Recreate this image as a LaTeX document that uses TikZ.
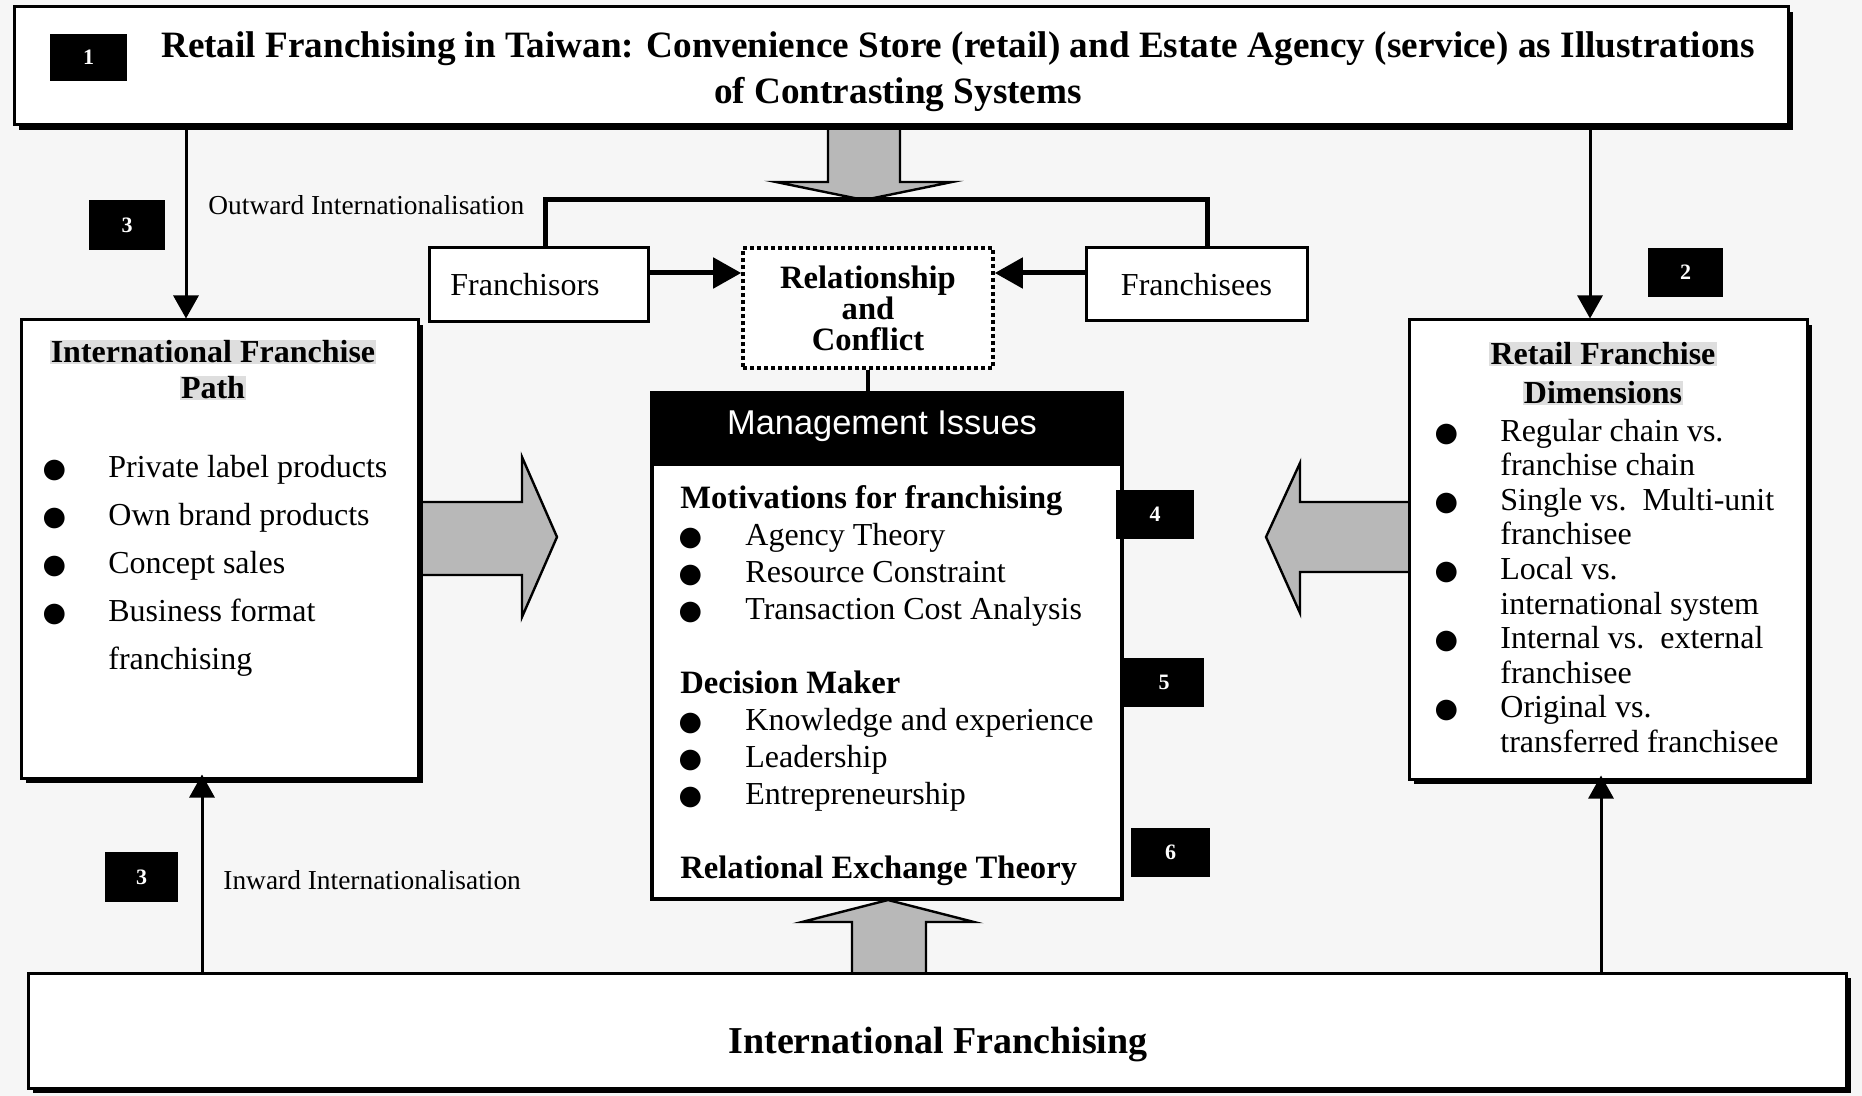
\documentclass[tikz,border=0pt]{standalone}
\usepackage{fontspec}
\setmainfont{Liberation Serif}
\setsansfont{Liberation Sans}
\newfontfamily\dvsans{DejaVu Sans}
\usetikzlibrary{arrows.meta,shadows}
\definecolor{bgpaper}{gray}{0.965}
\definecolor{hlgray}{gray}{0.87}
\definecolor{arrowgray}{gray}{0.72}
% large round list bullet
\newcommand\blt{{\dvsans\fontsize{13.5}{13.5}\selectfont ●}}
% shaded heading lines
\newcommand\hl[1]{{\setlength\fboxsep{0.6pt}\colorbox{hlgray}{#1}}}

\begin{document}
\begin{tikzpicture}[x=0.5pt,y=-0.5pt,
  panel/.style={draw, line width=1.5pt, fill=white, inner sep=0pt,
     drop shadow={shadow xshift=2.5pt, shadow yshift=-2.5pt, fill=black, opacity=1}},
  plainbox/.style={draw, line width=1.5pt, fill=white, inner sep=0pt},
  numbox/.style={fill=black, text=white, inner sep=0pt, font=\bfseries\fontsize{11}{11}\selectfont},
  arr/.style={line width=1.5pt, -{Triangle[length=11.5pt,width=12.5pt]}},
  harr/.style={line width=2.5pt, -{Triangle[length=14pt,width=15pt]}},
  blockarrow/.style={draw, line width=1.2pt, fill=arrowgray, line join=miter},
  listtext/.style={anchor=north west, inner sep=0pt, align=left},
  headtext/.style={inner sep=0pt, align=center},
  sidelabel/.style={anchor=west, inner sep=0pt, font=\fontsize{13.7}{16}\selectfont}
]
\useasboundingbox (0,0) rectangle (1862,1096);
\fill[bgpaper] (0,0) rectangle (1862,1096);

% broad grey arrows
\draw[blockarrow] (828,120) -- (828,182) -- (776,182) -- (864,200) -- (952,182) -- (900,182) -- (900,120) -- cycle;
\draw[blockarrow] (852,978) -- (852,922) -- (802,922) -- (888,900) -- (974,922) -- (926,922) -- (926,978) -- cycle;
\draw[blockarrow] (410,502) -- (522,502) -- (522,457) -- (557,537) -- (522,617) -- (522,575) -- (410,575) -- cycle;
\draw[blockarrow] (1414,502) -- (1300,502) -- (1300,463) -- (1266,537) -- (1300,613) -- (1300,572) -- (1414,572) -- cycle;

% title box
\node[panel, minimum width=887pt, minimum height=59pt] (top) at (901,66) {};
\node[headtext, font=\bfseries\fontsize{18.6}{22}\selectfont] (t1) at (958,49)
  {Retail Franchising in Taiwan: Convenience Store (retail) and Estate Agency (service) as Illustrations};
\node[headtext, font=\bfseries\fontsize{18.6}{22}\selectfont] (t2) at (898,95) {of Contrasting Systems};

% left panel
\node[panel, minimum width=198.5pt, minimum height=229pt] (ifp) at (219.5,549) {};
\node[headtext, font=\bfseries\fontsize{16}{18}\selectfont] (ifpT) at (213,370)
  {\hl{International Franchise}\\\hl{Path}};
\node[listtext, font=\fontsize{16}{24}\selectfont] (ifpL) at (34,454.5)
  {\makebox[20pt]{\blt}\hspace{17pt}Private label products\\
   \makebox[20pt]{\blt}\hspace{17pt}Own brand products\\
   \makebox[20pt]{\blt}\hspace{17pt}Concept sales\\
   \makebox[20pt]{\blt}\hspace{17pt}Business format\\
   \hspace{37pt}franchising};

% right panel
\node[panel, minimum width=199pt, minimum height=229.5pt] (rfd) at (1608,549.5) {};
\node[headtext, font=\bfseries\fontsize{16}{19.5}\selectfont] (rfdT) at (1603,373.5)
  {\hl{Retail Franchise}\\\hl{Dimensions}};
\node[listtext, font=\fontsize{16}{17.3}\selectfont] (rfdL) at (1436,418.5)
  {\makebox[10pt]{\blt}\hspace{22pt}Regular chain vs.\\
   \hspace{32pt}franchise chain\\
   \makebox[10pt]{\blt}\hspace{22pt}Single vs.\ \ Multi-unit\\
   \hspace{32pt}franchisee\\
   \makebox[10pt]{\blt}\hspace{22pt}Local vs.\\
   \hspace{32pt}international system\\
   \makebox[10pt]{\blt}\hspace{22pt}Internal vs.\ \ external\\
   \hspace{32pt}franchisee\\
   \makebox[10pt]{\blt}\hspace{22pt}Original vs.\\
   \hspace{32pt}transferred franchisee};

% parties and their relationship
\node[plainbox, minimum width=109.5pt, minimum height=37pt] (frs) at (538.5,285) {};
\node[inner sep=0pt, font=\fontsize{16}{18}\selectfont] (frsT) at (525,285) {Franchisors};
\node[plainbox, minimum width=110.5pt, minimum height=36.5pt, font=\fontsize{16}{18}\selectfont] (fes) at (1196.5,284.5) {Franchisees};
\node[draw, fill=white, line width=1.8pt, dash pattern=on 1.8pt off 1.7pt, inner sep=0pt,
      minimum width=125pt, minimum height=60pt, align=center,
      font=\bfseries\fontsize{16.3}{15.5}\selectfont] (rel) at (868,308) {Relationship\\and\\Conflict};

% management issues
\node[plainbox, line width=2pt, minimum width=235pt, minimum height=253pt] (mgmt) at (887,646) {};
\node[fill=black, text=white, inner sep=0pt, minimum width=235pt, minimum height=36.5pt] (hdr) at (887,429.5) {};
\node[inner sep=0pt, text=white, font=\sffamily\fontsize{17.2}{19}\selectfont] (hdrT) at (882,426) {Management Issues};
\node[listtext, font=\fontsize{16}{18.5}\selectfont] (mgL) at (680,485)
  {\textbf{\fontsize{16.3}{18.5}\selectfont Motivations for franchising}\\
   \makebox[10pt]{\blt}\hspace{22.5pt}Agency Theory\\
   \makebox[10pt]{\blt}\hspace{22.5pt}Resource Constraint\\
   \makebox[10pt]{\blt}\hspace{22.5pt}Transaction Cost Analysis\\[18.5pt]
   \textbf{\fontsize{16.3}{18.5}\selectfont Decision Maker}\\
   \makebox[10pt]{\blt}\hspace{22.5pt}Knowledge and experience\\
   \makebox[10pt]{\blt}\hspace{22.5pt}Leadership\\
   \makebox[10pt]{\blt}\hspace{22.5pt}Entrepreneurship\\[18.5pt]
   \textbf{\fontsize{16.3}{18.5}\selectfont Relational Exchange Theory}};

% base box
\node[panel, minimum width=909pt, minimum height=57.5pt] (intf) at (937,1030.5) {};
\node[headtext, font=\bfseries\fontsize{19}{22}\selectfont] (intfT) at (938,1044) {International Franchising};

% connectors
\coordinate (ox) at (186,0);
\coordinate (rx) at (1590,0);
\coordinate (ix) at (202,0);
\coordinate (bx) at (1601,0);
\coordinate (fx) at (545,200);
\coordinate (ex) at (1207,200);
\coordinate (ay) at (0,273);
\draw[arr] (top.south -| ox) -- (ifp.north -| ox);
\draw[arr] (top.south -| rx) -- (rfd.north -| rx);
\draw[arr, shorten >=-2.5pt] (intf.north -| ix) -- (ifp.south -| ix);
\draw[arr, shorten >=-2.5pt] (intf.north -| bx) -- (rfd.south -| bx);
\draw[line width=2.5pt, line join=miter] (frs.north -| fx) -- (fx) -- (ex) -- (fes.north -| ex);
\draw[harr] (frs.east |- ay) -- (rel.west |- ay);
\draw[harr] (fes.west |- ay) -- (rel.east |- ay);
\draw[line width=2pt] (rel.south) -- (rel.south |- hdr.north);

\node[sidelabel] (outl) at (208,205) {Outward Internationalisation};
\node[sidelabel] (inl) at (223,880) {Inward Internationalisation};

% section numbers
\node[numbox, minimum width=38.5pt, minimum height=23.5pt] (n1) at (88.5,57.5) {1};
\node[numbox, minimum width=37.5pt, minimum height=24.5pt] (n2) at (1685.5,272.5) {2};
\node[numbox, minimum width=38pt, minimum height=25pt] (n3a) at (127,225) {3};
\node[numbox, minimum width=36.5pt, minimum height=25pt] (n3b) at (141.5,877) {3};
\node[numbox, minimum width=39pt, minimum height=24.5pt] (n4) at (1155,514.5) {4};
\node[numbox, minimum width=40pt, minimum height=24.5pt] (n5) at (1164,682.5) {5};
\node[numbox, minimum width=39.5pt, minimum height=24.5pt] (n6) at (1170.5,852.5) {6};
\end{tikzpicture}
\end{document}
